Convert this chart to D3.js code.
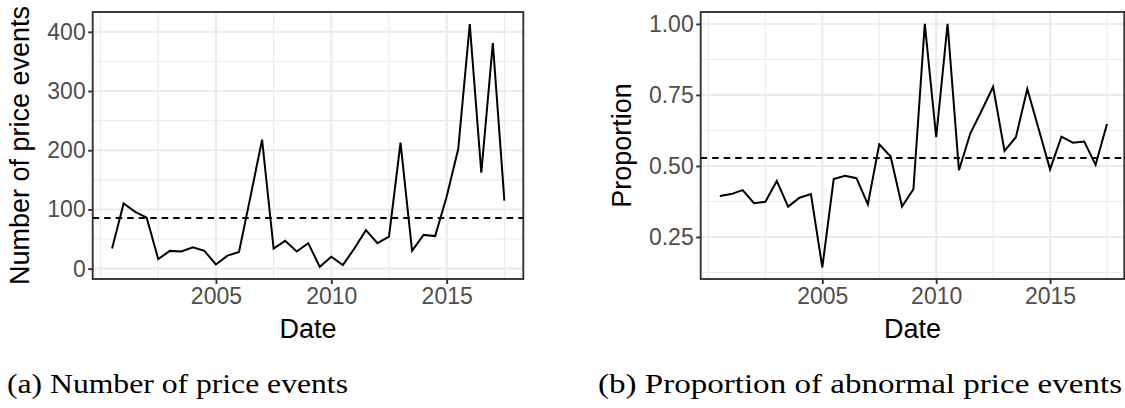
<!DOCTYPE html>
<meta charset="utf-8">
<html>
    <head>
        <script src="https://d3js.org/d3.v7.min.js"></script>
    </head>
    <style>
        body { margin: 0; background: #fff; }
        svg { display: block; }
    </style>
    <body>

        <div id="fig"></div>

        <script>

            // half-yearly observations (decimal years)
            var dates = [2000.5, 2001, 2001.5, 2002, 2002.5, 2003, 2003.5, 2004, 2004.5, 2005,
                         2005.5, 2006, 2006.5, 2007, 2007.5, 2008, 2008.5, 2009, 2009.5, 2010,
                         2010.5, 2011, 2011.5, 2012, 2012.5, 2013, 2013.5, 2014, 2014.5, 2015,
                         2015.5, 2016, 2016.5, 2017, 2017.5]

            var eventCounts = [34, 110, 96, 86, 16, 30, 29, 36, 30, 7,
                               22, 28, 122, 218, 34, 47, 29, 43, 3, 20,
                               6, 34, 65, 43, 54, 213, 30, 57, 55, 122,
                               202, 413, 162, 381, 115]

            var abnormalShare = [0.394, 0.401, 0.415, 0.369, 0.374, 0.447, 0.357, 0.388, 0.401, 0.143,
                                 0.454, 0.465, 0.457, 0.365, 0.576, 0.533, 0.357, 0.418, 1.0, 0.601,
                                 1.0, 0.485, 0.615, 0.695, 0.779, 0.553, 0.601, 0.771, 0.63, 0.488,
                                 0.603, 0.582, 0.586, 0.504, 0.648]

            var countMean = 85.5
            var shareMean = 0.528

            var xTicks = [2005, 2010, 2015]
            var xMinor = [2000, 2002.5, 2007.5, 2012.5, 2017.5]
            var countTicks = [0, 100, 200, 300, 400]
            var countMinor = [50, 150, 250, 350]
            var shareTicks = [0.25, 0.5, 0.75, 1.0]
            var shareMinor = [0.125, 0.375, 0.625, 0.875]

            var width = 1125, height = 408
            var sans = "'Liberation Sans', Arial, sans-serif"
            var serif = "'Liberation Serif', 'Times New Roman', serif"

            var svg = d3.select("#fig")
                .append("svg")
                .attr("width", width)
                .attr("height", height)
                .attr("viewBox", [0, 0, width, height])

            svg.append("rect").attr("width", width).attr("height", height).attr("fill", "#fff")

            function LinePanel({
                values,
                left, right,
                top = 12, bottom = 279,
                xDomain,
                yDomain,
                yTicks, yMinor,
                yFormat = d => d,
                refValue,
                yLabel, yLabelX,
                caption, captionX, captionLength
                } = {}) {

                const x = d3.scaleLinear(xDomain, [left, right])
                const y = d3.scaleLinear(yDomain, [bottom, top])

                const g = svg.append("g")

                // grid, minor first then major
                g.append("g")
                    .selectAll("line")
                    .data(xMinor)
                    .join("line")
                    .attr("x1", d => x(d)).attr("x2", d => x(d))
                    .attr("y1", top).attr("y2", bottom)
                    .attr("stroke", "#ebebeb").attr("stroke-width", 1.1)
                g.append("g")
                    .selectAll("line")
                    .data(yMinor)
                    .join("line")
                    .attr("x1", left).attr("x2", right)
                    .attr("y1", d => y(d)).attr("y2", d => y(d))
                    .attr("stroke", "#ebebeb").attr("stroke-width", 1.1)
                g.append("g")
                    .selectAll("line")
                    .data(xTicks)
                    .join("line")
                    .attr("x1", d => x(d)).attr("x2", d => x(d))
                    .attr("y1", top).attr("y2", bottom)
                    .attr("stroke", "#ebebeb").attr("stroke-width", 2.1)
                g.append("g")
                    .selectAll("line")
                    .data(yTicks)
                    .join("line")
                    .attr("x1", left).attr("x2", right)
                    .attr("y1", d => y(d)).attr("y2", d => y(d))
                    .attr("stroke", "#ebebeb").attr("stroke-width", 2.1)

                // mean line
                g.append("line")
                    .attr("x1", left).attr("x2", right)
                    .attr("y1", y(refValue)).attr("y2", y(refValue))
                    .attr("stroke", "#000")
                    .attr("stroke-width", 1.8)
                    .attr("stroke-dasharray", "6.5,5")

                // series
                const line = d3.line()
                    .x((d, i) => x(dates[i]))
                    .y(d => y(d))

                g.append("path")
                    .datum(values)
                    .attr("fill", "none")
                    .attr("stroke", "#000")
                    .attr("stroke-width", 2)
                    .attr("stroke-linejoin", "miter")
                    .attr("d", line)

                // panel border
                g.append("rect")
                    .attr("x", left).attr("y", top)
                    .attr("width", right - left).attr("height", bottom - top)
                    .attr("fill", "none")
                    .attr("stroke", "#333")
                    .attr("stroke-width", 1.9)

                // axes
                g.append("g")
                    .attr("transform", `translate(0,${bottom})`)
                    .call(d3.axisBottom(x).tickValues(xTicks).tickFormat(d3.format("d")).tickSize(5).tickPadding(3.5))
                    .call(a => a.select(".domain").remove())
                    .call(a => a.selectAll(".tick line").attr("stroke", "#333").attr("stroke-width", 1.9))
                    .call(a => a.selectAll(".tick text")
                        .attr("fill", "#4d4d4d")
                        .style("font-family", sans)
                        .style("font-size", "23px"))

                g.append("g")
                    .attr("transform", `translate(${left},0)`)
                    .call(d3.axisLeft(y).tickValues(yTicks).tickFormat(yFormat).tickSize(4.5).tickPadding(2.5))
                    .call(a => a.select(".domain").remove())
                    .call(a => a.selectAll(".tick line").attr("stroke", "#333").attr("stroke-width", 1.9))
                    .call(a => a.selectAll(".tick text")
                        .attr("fill", "#4d4d4d")
                        .style("font-family", sans)
                        .style("font-size", "23px"))

                // titles
                g.append("text")
                    .attr("x", (left + right) / 2)
                    .attr("y", 338)
                    .attr("text-anchor", "middle")
                    .style("font-family", sans)
                    .style("font-size", "27px")
                    .text("Date")

                g.append("text")
                    .attr("transform", `translate(${yLabelX},${(top + bottom) / 2}) rotate(-90)`)
                    .attr("text-anchor", "middle")
                    .attr("dy", "0.35em")
                    .style("font-family", sans)
                    .style("font-size", "27px")
                    .text(yLabel)

                g.append("text")
                    .attr("x", captionX)
                    .attr("y", 393)
                    .attr("textLength", captionLength)
                    .attr("lengthAdjust", "spacingAndGlyphs")
                    .style("font-family", serif)
                    .style("font-size", "28px")
                    .text(caption)
            }

            LinePanel({
                values: eventCounts,
                left: 92.7, right: 523.3,
                xDomain: [1999.66, 2018.32],
                yDomain: [-17.5, 433.5],
                yTicks: countTicks, yMinor: countMinor,
                refValue: countMean,
                yLabel: "Number of price events", yLabelX: 20,
                caption: "(a) Number of price events", captionX: 7, captionLength: 341
            })

            LinePanel({
                values: abnormalShare,
                left: 700.7, right: 1124.3,
                xDomain: [1999.66, 2018.26],
                yDomain: [0.102, 1.042],
                yTicks: shareTicks, yMinor: shareMinor,
                yFormat: d3.format(".2f"),
                refValue: shareMean,
                yLabel: "Proportion", yLabelX: 622,
                caption: "(b) Proportion of abnormal price events", captionX: 598, captionLength: 524
            })

        </script>
    </body>
</html>
